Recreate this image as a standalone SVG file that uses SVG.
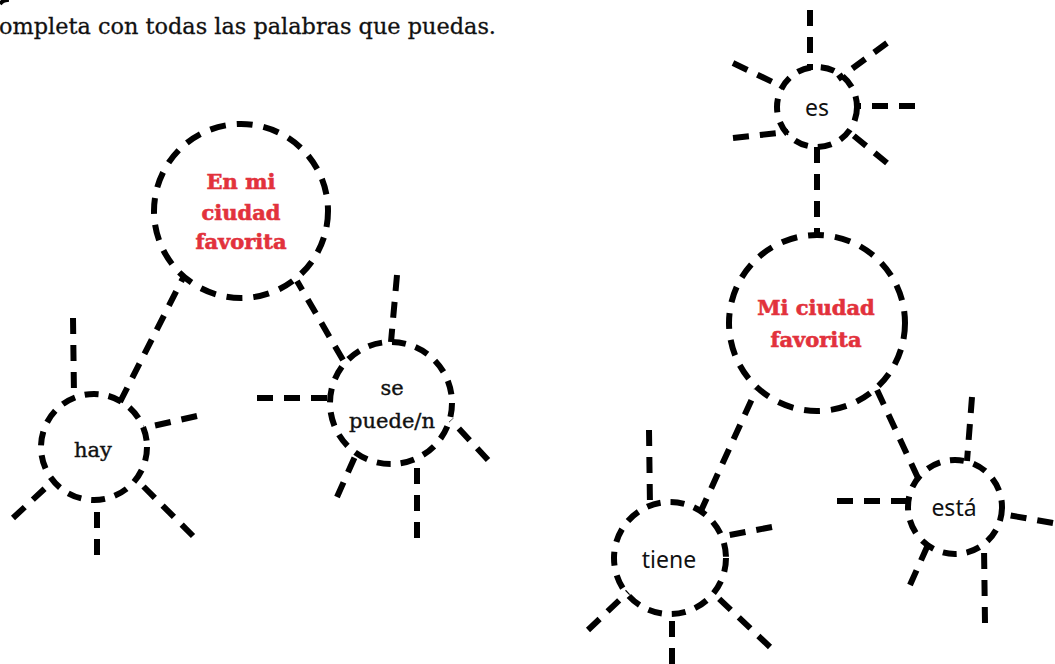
<svg xmlns="http://www.w3.org/2000/svg" width="1055" height="664" viewBox="0 0 1055 664">
<style>
.c{fill:none;stroke:#000;stroke-width:6;stroke-dasharray:16 11}
.cs{fill:none;stroke:#000;stroke-width:6;stroke-dasharray:14 10}
.r{stroke:#000;stroke-width:6;stroke-dasharray:16 11;fill:none}
.t{font-family:"DejaVu Serif","Liberation Serif",serif;font-size:21px;fill:#111;stroke:#111;stroke-width:0.4;text-anchor:middle}
.s{font-family:"Noto Sans","Open Sans",sans-serif;font-size:23px;fill:#111;text-anchor:middle}
.h{font-family:"DejaVu Serif","Liberation Serif",serif;font-weight:bold;font-size:21px;fill:#e2323c;stroke:#e2323c;stroke-width:0.6;text-anchor:middle}
</style>
<rect width="1055" height="664" fill="#fff"/>
<path d="M0,4 A10,10 0 0 1 9,0" stroke="#000" stroke-width="4" fill="none"/>
<text x="-1" y="34" font-family="DejaVu Serif, Liberation Serif, serif" font-size="22.5" fill="#111" stroke="#111" stroke-width="0.3" textLength="497" lengthAdjust="spacingAndGlyphs">ompleta con todas las palabras que puedas.</text>

<g id="connectors">
<line class="r" x1="120" y1="402" x2="183" y2="278"/>
<line class="r" x1="343" y1="360" x2="297" y2="281"/>
<line class="r" x1="817" y1="147" x2="817" y2="236"/>
<line class="r" x1="700" y1="513" x2="756" y2="390"/>
<line class="r" x1="918" y1="478" x2="877" y2="390"/>
</g>

<g id="node-en-mi-ciudad">
<circle class="c" cx="241" cy="211" r="87"/>
<text class="h" x="241" y="189">En mi</text>
<text class="h" x="241" y="220">ciudad</text>
<text class="h" x="241" y="249">favorita</text>
</g>

<g id="node-hay">
<circle class="cs" cx="94" cy="447" r="53"/>
<text class="t" x="93" y="457">hay</text>
<line class="r" x1="73" y1="318" x2="74" y2="396"/>
<line class="r" x1="197" y1="416" x2="144" y2="428"/>
<line class="r" x1="193" y1="536" x2="137" y2="480"/>
<line class="r" x1="97" y1="555" x2="97" y2="500"/>
<line class="r" x1="13" y1="518" x2="53" y2="481"/>
</g>

<g id="node-se-puede">
<circle class="cs" cx="391" cy="403" r="61"/>
<text class="t" x="392" y="395">se</text>
<text class="t" x="392" y="428">puede/n</text>
<line class="r" x1="397" y1="275" x2="391" y2="342"/>
<line class="r" x1="257" y1="398" x2="330" y2="398"/>
<line class="r" x1="488" y1="460" x2="451" y2="420"/>
<line class="r" x1="417" y1="538" x2="417" y2="459"/>
<line class="r" x1="337" y1="497" x2="357" y2="452"/>
</g>

<g id="node-es">
<circle class="cs" cx="817" cy="107" r="40"/>
<text class="s" x="817" y="116">es</text>
<line class="r" x1="810" y1="10" x2="810" y2="70"/>
<line class="r" x1="887" y1="43" x2="838" y2="79"/>
<line class="r" x1="915" y1="106" x2="856" y2="106"/>
<line class="r" x1="887" y1="163" x2="848" y2="131"/>
<line class="r" x1="733" y1="138" x2="788" y2="132"/>
<line class="r" x1="733" y1="63" x2="783" y2="87"/>
</g>

<g id="node-mi-ciudad">
<circle class="c" cx="817" cy="323" r="88"/>
<text class="h" x="816" y="315">Mi ciudad</text>
<text class="h" x="816" y="347">favorita</text>
</g>

<g id="node-tiene">
<circle class="cs" cx="670" cy="558" r="56"/>
<text class="s" x="669" y="568">tiene</text>
<line class="r" x1="649" y1="430" x2="650" y2="507"/>
<line class="r" x1="772" y1="527" x2="719" y2="537"/>
<line class="r" x1="770" y1="647" x2="713" y2="593"/>
<line class="r" x1="672" y1="664" x2="672" y2="612"/>
<line class="r" x1="588" y1="630" x2="628" y2="592"/>
</g>

<g id="node-esta">
<circle class="cs" cx="955" cy="507" r="47"/>
<text class="s" x="954" y="516">está</text>
<line class="r" x1="972" y1="397" x2="967" y2="461"/>
<line class="r" x1="837" y1="501" x2="907" y2="501"/>
<line class="r" x1="1053" y1="523" x2="1002" y2="514"/>
<line class="r" x1="985" y1="623" x2="984" y2="547"/>
<line class="r" x1="910" y1="585" x2="927" y2="547"/>
</g>
</svg>
